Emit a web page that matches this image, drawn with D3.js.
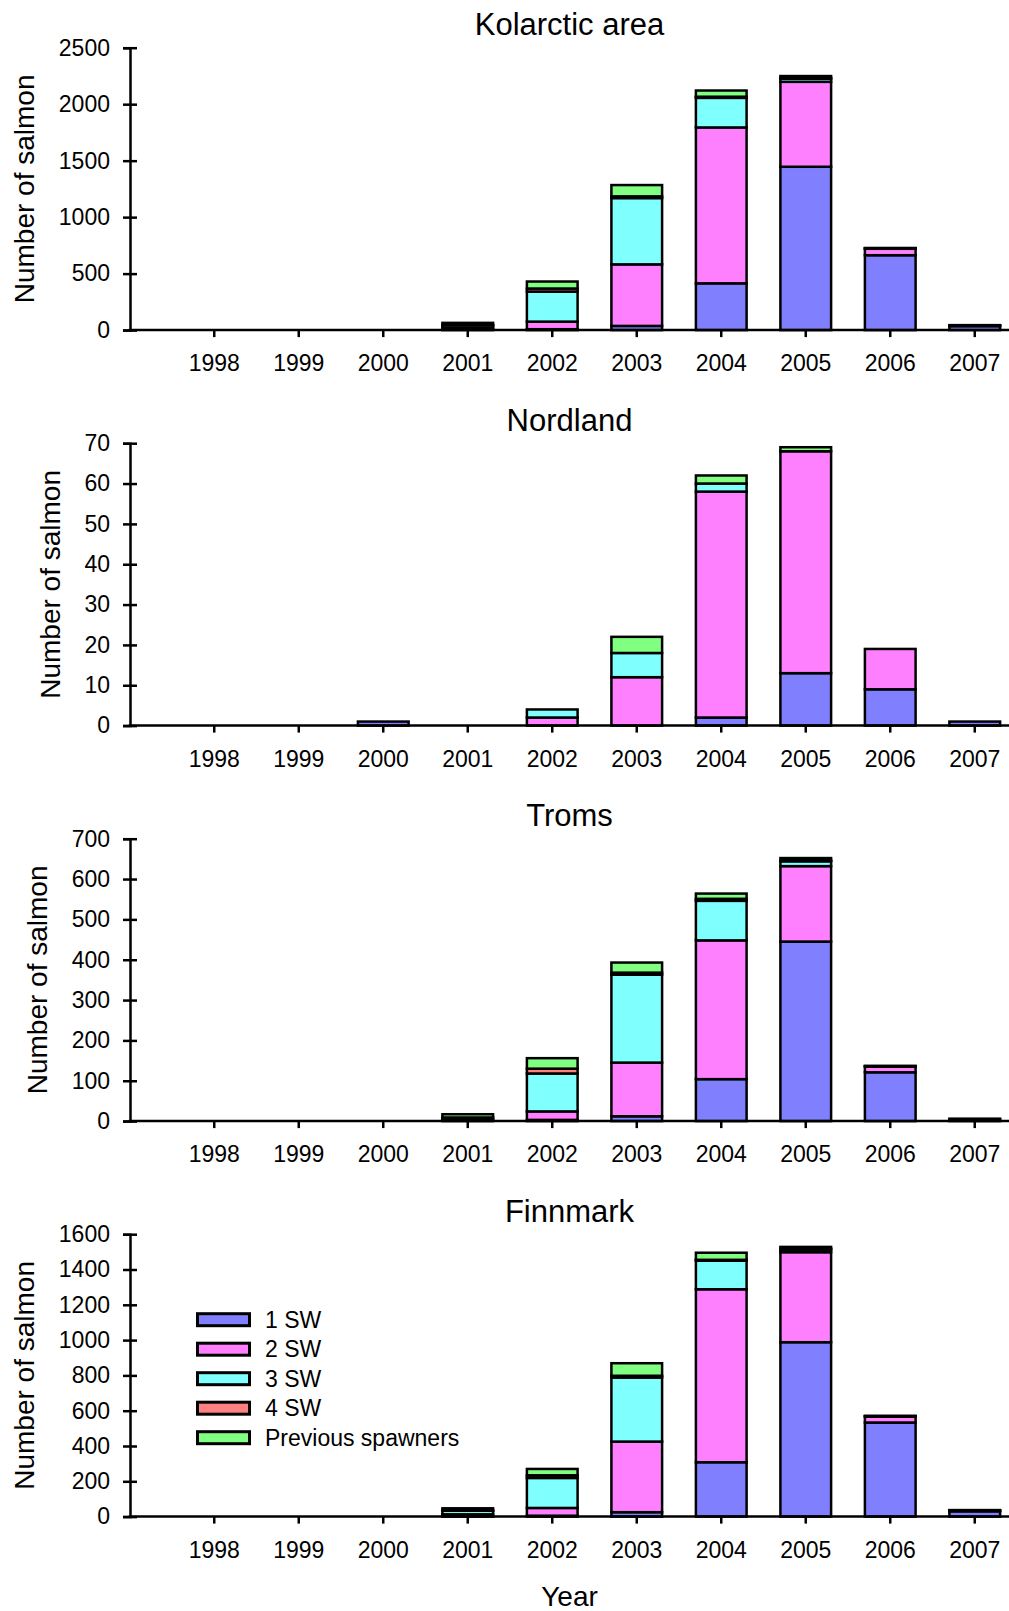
<!DOCTYPE html>
<html>
<head>
<meta charset="utf-8">
<script src="https://cdn.jsdelivr.net/npm/d3@7"></script>
<style>
body { margin: 0; background: #fff; }
svg text { font-family: "Liberation Sans", Arial, sans-serif; fill: #000; }
</style>
</head>
<body>
<div id="chart"></div>
<script>
var years = [1998, 1999, 2000, 2001, 2002, 2003, 2004, 2005, 2006, 2007];
var seriesNames = ["1 SW", "2 SW", "3 SW", "4 SW", "Previous spawners"];
var seriesColors = ["#8080ff", "#ff80ff", "#80ffff", "#ff8080", "#80ff80"];

// Kolarctic area
var kolarctic1SW  = [0, 0, 0, 4, 8, 37, 414, 1446, 663, 35];
var kolarctic2SW  = [0, 0, 0, 13, 67, 545, 1380, 752, 57, 7];
var kolarctic3SW  = [0, 0, 0, 25, 266, 587, 262, 27, 4, 0];
var kolarctic4SW  = [0, 0, 0, 2, 27, 15, 10, 7, 0, 0];
var kolarcticPrev = [0, 0, 0, 20, 62, 100, 55, 17, 3, 2];
var kolarcticTicks = [0, 500, 1000, 1500, 2000, 2500];

// Nordland
var nordland1SW  = [0, 0, 1, 0, 0, 0, 2, 13, 9, 1];
var nordland2SW  = [0, 0, 0, 0, 2, 12, 56, 55, 10, 0];
var nordland3SW  = [0, 0, 0, 0, 2, 6, 2, 0, 0, 0];
var nordland4SW  = [0, 0, 0, 0, 0, 0, 0, 0, 0, 0];
var nordlandPrev = [0, 0, 0, 0, 0, 4, 2, 1, 0, 0];
var nordlandTicks = [0, 10, 20, 30, 40, 50, 60, 70];

// Troms
var troms1SW  = [0, 0, 0, 1, 3, 12, 104, 445, 121, 4];
var troms2SW  = [0, 0, 0, 3, 21, 133, 344, 187, 14, 2];
var troms3SW  = [0, 0, 0, 5, 94, 218, 98, 12, 1, 0];
var troms4SW  = [0, 0, 0, 0, 12, 5, 5, 2, 0, 0];
var tromsPrev = [0, 0, 0, 8, 26, 25, 13, 6, 1, 0];
var tromsTicks = [0, 100, 200, 300, 400, 500, 600, 700];

// Finnmark
var finnmark1SW  = [0, 0, 0, 3, 5, 25, 308, 988, 533, 30];
var finnmark2SW  = [0, 0, 0, 10, 44, 400, 980, 510, 33, 5];
var finnmark3SW  = [0, 0, 0, 20, 170, 363, 162, 15, 3, 0];
var finnmark4SW  = [0, 0, 0, 2, 15, 10, 5, 5, 0, 0];
var finnmarkPrev = [0, 0, 0, 12, 36, 71, 40, 10, 2, 2];
var finnmarkTicks = [0, 200, 400, 600, 800, 1000, 1200, 1400, 1600];

var panels = [
  {title: "Kolarctic area", series: [kolarctic1SW, kolarctic2SW, kolarctic3SW, kolarctic4SW, kolarcticPrev], ticks: kolarcticTicks},
  {title: "Nordland", series: [nordland1SW, nordland2SW, nordland3SW, nordland4SW, nordlandPrev], ticks: nordlandTicks},
  {title: "Troms", series: [troms1SW, troms2SW, troms3SW, troms4SW, tromsPrev], ticks: tromsTicks},
  {title: "Finnmark", series: [finnmark1SW, finnmark2SW, finnmark3SW, finnmark4SW, finnmarkPrev], ticks: finnmarkTicks, legend: true}
];

var W = 1009, H = 1611;
var axisX = 130, axisRight = 1009;
var firstTop = 47.7, plotH = 282.4, panelStep = 395.5;

var svg = d3.select("#chart").append("svg")
    .attr("width", W)
    .attr("height", H);

var x = d3.scaleBand()
    .domain(years)
    .range([172, 1017])
    .paddingInner(0.4)
    .paddingOuter(0.2);

function drawPanel(p, idx) {
  var top = firstTop + idx * panelStep;
  var g = svg.append("g").attr("transform", "translate(0," + top + ")");

  var y = d3.scaleLinear()
      .domain([0, d3.max(p.ticks)])
      .range([plotH, 0]);

  var rows = years.map(function(yr, i) {
    var r = {year: yr};
    p.series.forEach(function(s, j) { r[seriesNames[j]] = s[i]; });
    return r;
  });
  var stacked = d3.stack().keys(seriesNames)(rows);

  // bars
  g.selectAll(".layer")
      .data(stacked)
    .enter().append("g")
      .attr("class", "layer")
      .attr("fill", function(d, i) { return seriesColors[i]; })
    .selectAll("rect")
      .data(function(d) { return d.filter(function(s) { return s[1] - s[0] > 0; }); })
    .enter().append("rect")
      .attr("x", function(d) { return x(d.data.year); })
      .attr("width", x.bandwidth())
      .attr("y", function(d) { return y(d[1]); })
      .attr("height", function(d) { return y(d[0]) - y(d[1]); })
      .attr("stroke", "#000")
      .attr("stroke-width", 2.5);

  // y axis
  var yAxis = g.append("g")
      .attr("transform", "translate(" + axisX + ",0)")
      .call(d3.axisLeft(y).tickValues(p.ticks).tickSize(7).tickPadding(13).tickFormat(d3.format("d")));
  yAxis.attr("font-size", 23).attr("font-family", null);
  yAxis.selectAll(".tick line").attr("x1", 7).attr("stroke-width", 2.5);
  yAxis.select(".domain").attr("stroke-width", 2.5);

  // x axis
  var xAxis = g.append("g")
      .attr("transform", "translate(0," + plotH + ")")
      .call(d3.axisBottom(x).tickSize(7).tickPadding(18));
  xAxis.attr("font-size", 23).attr("font-family", null);
  xAxis.select(".domain").remove();
  xAxis.selectAll(".tick line").attr("stroke-width", 2.5);
  xAxis.append("line")
      .attr("x1", axisX - 1.25).attr("x2", axisRight)
      .attr("stroke", "#000")
      .attr("stroke-width", 2.5);

  // title
  g.append("text")
      .attr("x", (axisX + axisRight) / 2)
      .attr("y", -12.5)
      .attr("text-anchor", "middle")
      .attr("font-size", 31)
      .text(p.title);

  // y label, placed left of the tick labels
  var bb = yAxis.node().getBBox();
  var labelX = axisX + bb.x - 24.5;
  g.append("text")
      .attr("transform", "translate(" + labelX + "," + (plotH / 2) + ") rotate(-90)")
      .attr("text-anchor", "middle")
      .attr("font-size", 28)
      .text("Number of salmon");

  if (p.legend) {
    var lg = g.append("g").attr("transform", "translate(197.5," + (1319.7 - top) + ")");
    var item = lg.selectAll(".item")
        .data(seriesNames)
      .enter().append("g")
        .attr("class", "item")
        .attr("transform", function(d, i) { return "translate(0," + (i * 29.5) + ")"; });
    item.append("rect")
        .attr("x", 0).attr("y", -6)
        .attr("width", 52).attr("height", 12)
        .attr("fill", function(d, i) { return seriesColors[i]; })
        .attr("stroke", "#000")
        .attr("stroke-width", 3);
    item.append("text")
        .attr("x", 67.5)
        .attr("dy", "0.36em")
        .attr("font-size", 23)
        .text(function(d) { return d; });
  }
}

panels.forEach(drawPanel);

svg.append("text")
    .attr("x", (axisX + axisRight) / 2)
    .attr("y", 1606)
    .attr("text-anchor", "middle")
    .attr("font-size", 28)
    .text("Year");
</script>
</body>
</html>
